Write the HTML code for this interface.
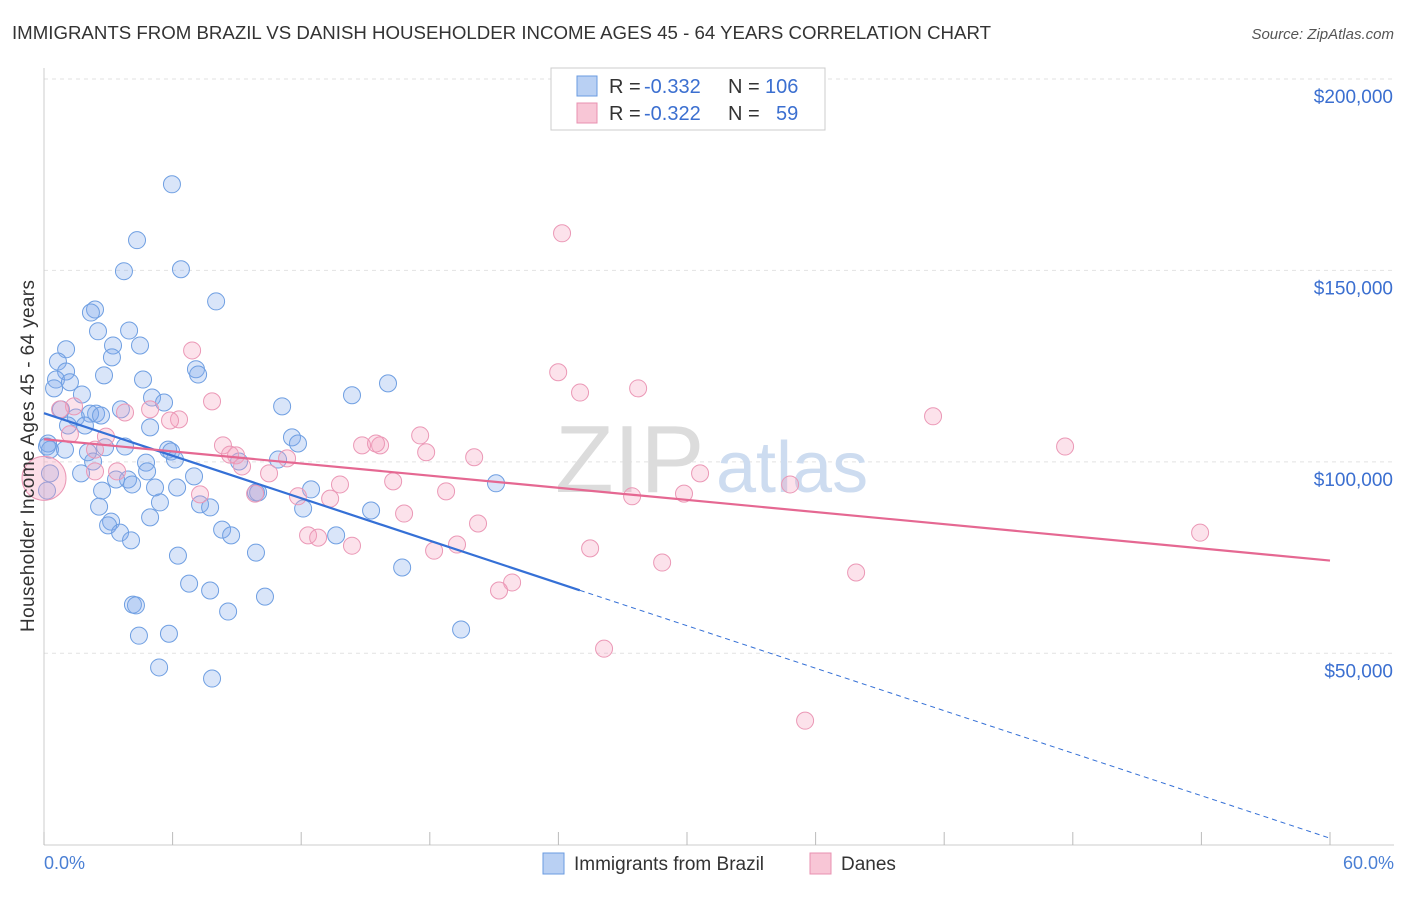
<!DOCTYPE html>
<html><head><meta charset="utf-8"><style>
body{margin:0;background:#fff;font-family:"Liberation Sans",sans-serif;}
svg text{font-family:"Liberation Sans",sans-serif;}
</style></head><body>
<svg id="chart" width="1406" height="892">
<text x="12" y="39" font-size="18" fill="#333" textLength="979" lengthAdjust="spacingAndGlyphs">IMMIGRANTS FROM BRAZIL VS DANISH HOUSEHOLDER INCOME AGES 45 - 64 YEARS CORRELATION CHART</text>
<text x="1394" y="39" font-size="15" fill="#555" text-anchor="end" font-style="italic">Source: ZipAtlas.com</text>
<g id="grid"></g>
<text x="555" y="492" font-size="96" fill="#dcdcdc" font-family="Liberation Serif">ZIP</text>
<text x="716" y="492" font-size="72" fill="#cddcf0">atlas</text>
<g id="marks"></g>
<text x="34" y="456" font-size="19" fill="#333" text-anchor="middle" textLength="352" transform="rotate(-90 34 456)">Householder Income Ages 45 - 64 years</text>
<text x="44" y="869" font-size="18" fill="#4a7fd4">0.0%</text>
<text x="1394" y="869" font-size="18" fill="#4a7fd4" text-anchor="end">60.0%</text>
<g>
<rect x="551" y="68" width="274" height="62" fill="#fff" stroke="#ccc"/>
<rect x="577" y="76" width="20" height="20" fill="#b9d0f3" stroke="#6a9be0"/>
<rect x="577" y="103" width="20" height="20" fill="#f8c6d6" stroke="#e890b0"/>
<text x="609" y="93" font-size="20" fill="#333">R =</text>
<text x="644" y="93" font-size="20" fill="#3b6fd0">-0.332</text>
<text x="728" y="93" font-size="20" fill="#333">N =</text>
<text x="765" y="93" font-size="20" fill="#3b6fd0">106</text>
<text x="609" y="120" font-size="20" fill="#333">R =</text>
<text x="644" y="120" font-size="20" fill="#3b6fd0">-0.322</text>
<text x="728" y="120" font-size="20" fill="#333">N =</text>
<text x="776" y="120" font-size="20" fill="#3b6fd0">59</text>
</g>
<g>
<rect x="543" y="853" width="21" height="21" fill="#b9d0f3" stroke="#6a9be0"/>
<text x="574" y="870" font-size="19" fill="#333">Immigrants from Brazil</text>
<rect x="810" y="853" width="21" height="21" fill="#f8c6d6" stroke="#e890b0"/>
<text x="841" y="870" font-size="19" fill="#333">Danes</text>
</g>
</svg>
<script>
const yTicks=[50000,100000,150000,200000];
const yTickLabels=["$50,000","$100,000","$150,000","$200,000"];
const xTicks=[0,6,12,18,24,30,36,42,48,54,60];
const brazilX=[5.97,4.34,3.73,6.39,8.03,2.38,2.19,2.52,3.97,3.22,4.48,1.03,0.65,3.17,1.03,2.80,0.56,1.21,4.62,7.09,7.19,16.05,14.37,0.47,1.77,5.04,3.59,5.60,0.79,2.43,2.15,2.66,11.11,1.49,1.12,1.91,4.95,0.19,0.28,0.98,11.57,11.85,2.05,2.85,3.78,5.79,5.93,4.76,6.11,2.29,9.10,10.92,1.73,4.81,3.92,7.00,3.36,9.89,9.99,12.46,2.71,4.11,6.21,5.18,5.41,2.57,7.28,7.75,12.09,15.26,4.95,3.13,2.99,8.31,8.73,3.55,4.06,13.63,9.89,6.25,16.71,6.77,7.75,10.31,4.15,4.29,8.59,4.43,5.83,19.46,5.37,7.84,21.09,0.28,0.14,0.14];
const brazilY=[172.5,157.9,149.8,150.3,141.9,139.8,139.0,134.1,134.3,130.4,130.4,129.4,126.2,127.3,123.6,122.6,121.5,120.8,121.5,124.2,122.8,120.5,117.4,119.2,117.6,116.8,113.7,115.5,113.7,112.6,112.6,112.1,114.5,111.6,109.5,109.5,109.0,104.8,103.2,103.2,106.4,104.8,102.5,103.8,104.0,103.2,102.7,99.8,100.6,100.1,100.1,100.6,97.0,97.5,95.4,96.2,95.4,92.0,92.0,92.8,92.5,94.1,93.3,93.3,89.4,88.3,88.9,88.1,87.8,87.3,85.5,84.4,83.4,82.3,80.8,81.5,79.5,80.8,76.3,75.5,72.4,68.2,66.4,64.8,62.7,62.5,60.9,54.6,55.1,56.2,46.3,43.4,94.4,97.0,92.5,104.0];
const danesX=[24.17,6.91,23.99,7.84,27.72,25.01,41.48,47.64,4.95,3.78,6.30,5.88,1.40,2.89,1.21,2.38,8.35,8.96,17.55,14.84,15.68,15.49,17.83,20.07,11.34,10.50,3.41,9.24,30.61,34.81,29.86,27.44,18.76,16.29,13.81,13.35,11.85,9.85,7.28,16.80,20.25,12.32,12.79,14.37,19.27,18.20,25.48,28.84,37.89,21.84,21.23,26.13,35.51,53.94,0.75,8.68,2.38];
const danesY=[159.7,129.1,123.4,115.8,119.2,118.1,111.9,104.0,113.7,112.9,111.1,110.8,114.5,106.6,107.2,103.2,104.3,101.7,106.9,104.3,104.3,104.8,102.5,101.2,100.9,97.0,97.5,98.8,97.0,94.1,91.7,91.0,92.3,94.9,94.1,90.4,91.0,91.7,91.5,86.5,83.9,80.8,80.2,78.1,78.4,76.8,77.4,73.7,71.1,68.5,66.4,51.2,32.4,81.5,113.7,101.9,97.5];
const bigDaneX=[0.0], bigDaneY=[95.7];
const brazilTrend=[112.7,-1.85];
const danesTrend=[105.9,-0.528];
const brazilSolidEnd=25;

const X0=44,X1=1330,Y0=844.7,Y1=79;
const xs=v=>X0+(v/60)*(X1-X0);
const ys=v=>Y0-(v/200)*(Y0-Y1);
const ns="http://www.w3.org/2000/svg";
function mk(t,a,p){const e=document.createElementNS(ns,t);for(const k in a)e.setAttribute(k,a[k]);p.appendChild(e);return e;}
const grid=document.getElementById('grid'),marks=document.getElementById('marks');
yTicks.forEach((t,i)=>{
  const g=mk('line',{x1:X0,x2:1394,y1:ys(t/1000),y2:ys(t/1000),stroke:'#e2e2e2','stroke-dasharray':'4,4'},grid);
  
  
  const tx=mk('text',{x:1393,y:ys(t/1000)+24,'font-size':19,fill:'#3b6fd0','text-anchor':'end'},grid);
  tx.textContent=yTickLabels[i];
  
  
});
const ax=mk('line',{x1:X0,x2:X0,y1:68,y2:845,stroke:'#ccc'},grid);


const bx=mk('line',{x1:X0,x2:1394,y1:845,y2:845,stroke:'#ccc'},grid);


xTicks.forEach(t=>{
  const l=mk('line',{x1:xs(t),x2:xs(t),y1:832,y2:845,stroke:'#bbb'},grid);
  
  
});
function dots(X,Y,fill,stroke,name,r){
  X.forEach((x,i)=>{
    const c=mk('circle',{cx:xs(x),cy:ys(Y[i]),r:r,fill:fill,stroke:stroke,'stroke-width':1},marks);
    
    
  });
}
dots(brazilX,brazilY,'rgba(130,170,235,0.3)','#6f9fe2','brazil-point',8.5);
dots(danesX,danesY,'rgba(245,160,190,0.3)','#eb98b6','danes-point',8.5);
dots(bigDaneX,bigDaneY,'rgba(245,160,190,0.35)','#eb98b6','danes-large-point',22);
const bf=x=>brazilTrend[0]+brazilTrend[1]*x, df=x=>danesTrend[0]+danesTrend[1]*x;
const l1=mk('line',{x1:xs(0),y1:ys(bf(0)),x2:xs(brazilSolidEnd),y2:ys(bf(brazilSolidEnd)),stroke:'#3570d6','stroke-width':2.2},marks);


const l2=mk('line',{x1:xs(brazilSolidEnd),y1:ys(bf(brazilSolidEnd)),x2:xs(60),y2:ys(bf(60)),stroke:'#3570d6','stroke-width':1,'stroke-dasharray':'5,4'},marks);


const l3=mk('line',{x1:xs(0),y1:ys(df(0)),x2:xs(60),y2:ys(df(60)),stroke:'#e56892','stroke-width':2.2},marks);


</script>
</body></html>
